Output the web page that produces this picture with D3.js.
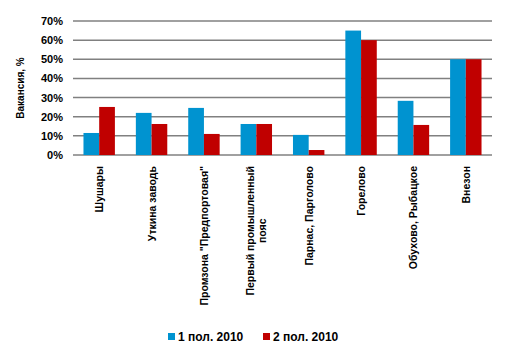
<!DOCTYPE html>
<html><head><meta charset="utf-8">
<script src="https://cdn.jsdelivr.net/npm/d3@7"></script>
<style>body{margin:0;background:#fff;} text{font-family:"Liberation Sans",Arial,sans-serif;font-weight:bold;}</style>
</head><body>
<svg id="c" width="508" height="359"></svg>
<script>
const categories = ["Шушары","Уткина заводь","Промзона \"Предпортовая\"","Первый промышленный|пояс","Парнас, Парголово","Горелово","Обухово, Рыбацкое","Внезон"];
const series1 = [11.5, 22, 24.6, 16.2, 10.5, 65, 28.3, 50];
const series2 = [25.1, 16.2, 11, 16.2, 2.6, 60, 15.7, 50];
const seriesNames = ["1 пол. 2010", "2 пол. 2010"];
const yTicks = [0,10,20,30,40,50,60,70];
const colors = ["#0093D0", "#C00000"];

const svg = d3.select("#c");
const x0 = d3.scaleBand().domain(categories).range([73, 492]).paddingInner(0.4).paddingOuter(0.2);
const x1 = d3.scaleBand().domain([0,1]).range([0, x0.bandwidth()]);
const y = d3.scaleLinear().domain([0,70]).range([155, 21]);

svg.append("g").selectAll("line").data(yTicks).join("line")
  .attr("x1", 73).attr("x2", 492)
  .attr("y1", d => y(d)).attr("y2", d => y(d))
  .attr("stroke", "#808080").attr("stroke-width", 1.5);

const yAxis = d3.axisLeft(y).tickValues(yTicks).tickFormat(d => d + "%").tickSize(0).tickPadding(0);
const ga = svg.append("g").attr("transform", "translate(63,0)").call(yAxis);
ga.select(".domain").remove();
ga.selectAll("text").attr("font-size", 11).attr("fill", "#000").style("font-family", "'Liberation Sans',Arial,sans-serif").style("font-weight","bold");

const data = categories.map((c,i) => ({c, v:[series1[i], series2[i]]}));
const groups = svg.append("g").selectAll("g").data(data).join("g")
  .attr("transform", d => `translate(${x0(d.c)},0)`);
groups.selectAll("rect").data(d => d.v.map((v,k)=>({v,k}))).join("rect")
  .attr("x", d => x1(d.k)).attr("width", x1.bandwidth())
  .attr("y", d => y(d.v)).attr("height", d => y(0) - y(d.v))
  .attr("fill", d => colors[d.k]);

categories.forEach(c => {
  const lines = c.split("|");
  const cx = x0(c) + x0.bandwidth()/2;
  const t = svg.append("text")
    .attr("transform", `translate(${cx},166) rotate(-90)`)
    .attr("text-anchor", "end")
    .attr("font-size", 10.5).attr("fill", "#000");
  const lh = 12;
  lines.forEach((l, i) => {
    t.append("tspan").attr("x", 0)
      .attr("dy", i === 0 ? (4 - (lines.length-1)*lh/2) : lh)
      .text(l);
  });
  if (lines.length > 1) {
    const spans = t.selectAll("tspan").nodes();
    const w = d3.max(spans, s => s.getComputedTextLength());
    spans.forEach(s => {
      const tw = s.getComputedTextLength();
      d3.select(s).attr("x", -(w - tw)/2);
    });
  }
});

svg.append("text").attr("transform", "translate(24,88) rotate(-90)")
  .attr("text-anchor", "middle").attr("font-size", 10).attr("fill", "#000")
  .text("Вакансия, %");

const legend = [{x:168, t:seriesNames[0], c:colors[0]}, {x:263, t:seriesNames[1], c:colors[1]}];
legend.forEach(l => {
  svg.append("rect").attr("x", l.x).attr("y", 333).attr("width", 7).attr("height", 7).attr("fill", l.c);
  svg.append("text").attr("x", l.x + 10).attr("y", 341).attr("font-size", 12).attr("fill", "#000").text(l.t);
});
</script>
</body></html>
